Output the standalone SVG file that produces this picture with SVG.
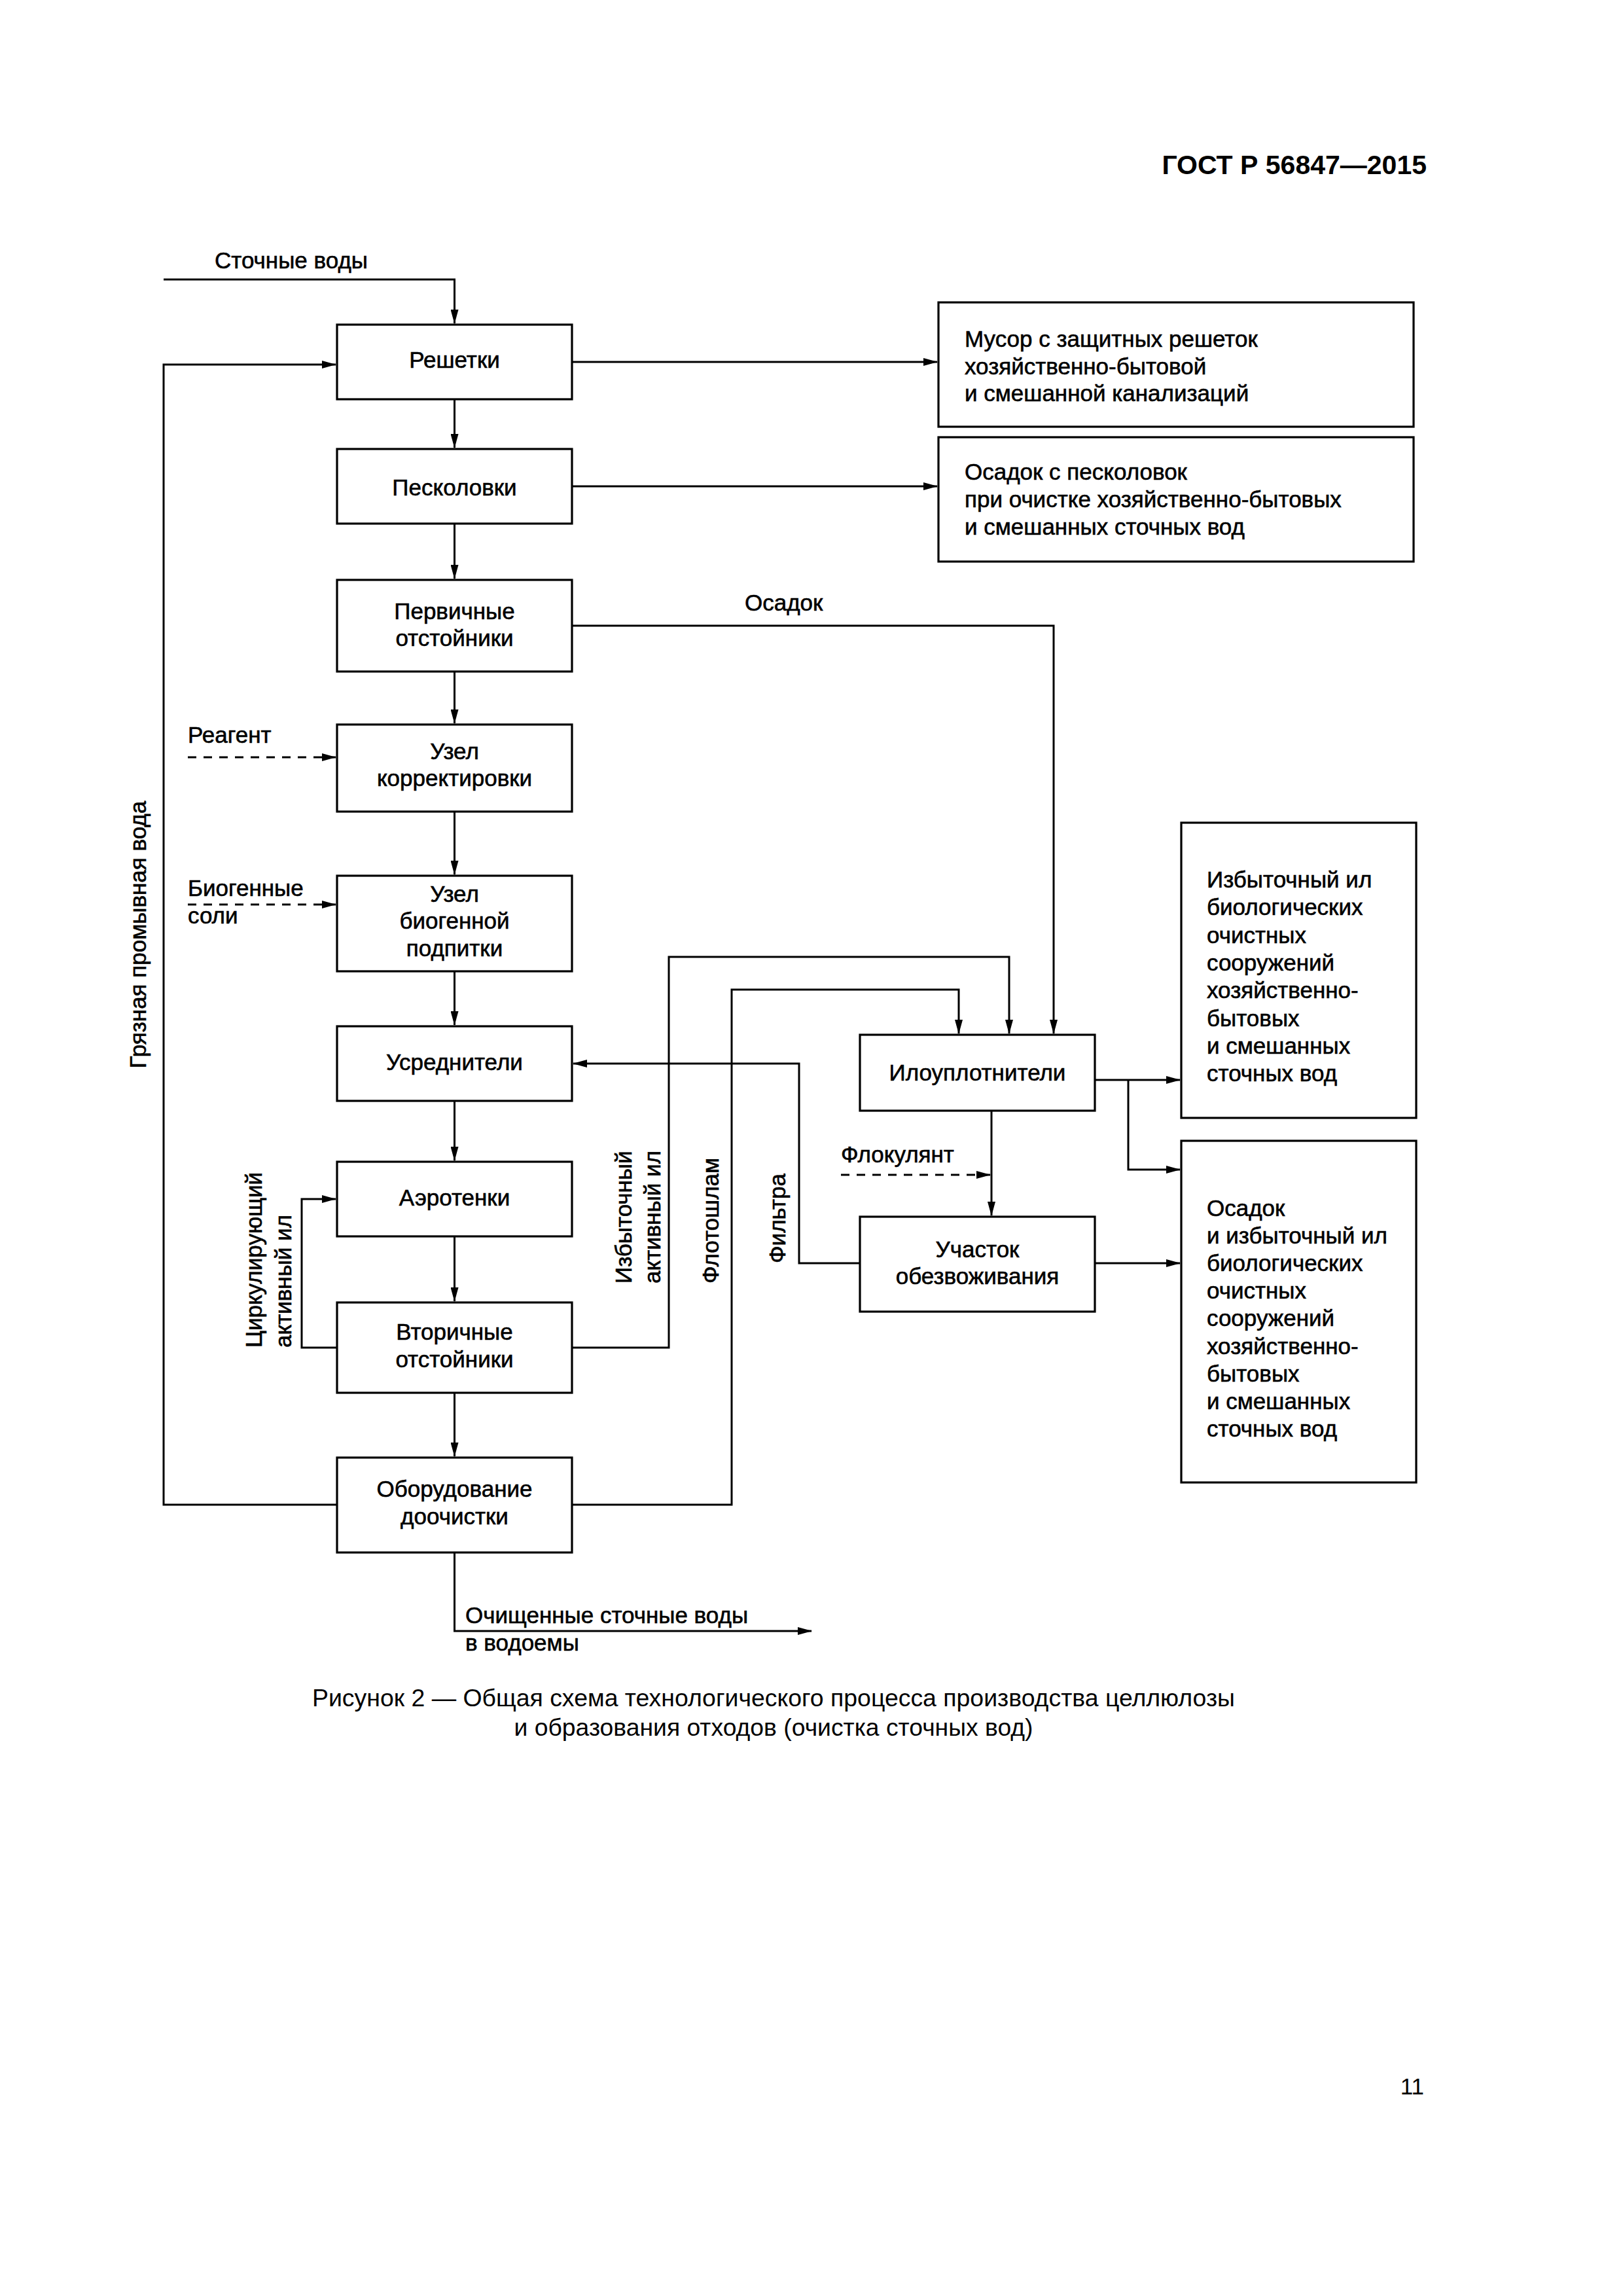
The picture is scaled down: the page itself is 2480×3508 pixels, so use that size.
<svg xmlns="http://www.w3.org/2000/svg" width="2480" height="3508" viewBox="0 0 2480 3508">
<style>
text{font-family:"Liberation Sans",Arial,sans-serif;font-size:35px;fill:#000;stroke:#000;stroke-width:0.6}
.c{text-anchor:middle}
.box{fill:none;stroke:#000;stroke-width:3.2}
.ln{fill:none;stroke:#000;stroke-width:3}
.dash{fill:none;stroke:#000;stroke-width:3;stroke-dasharray:13 11}
.hdr{font-weight:bold;font-size:41px;stroke:none}
.cap{font-size:36px;stroke:none}
</style>
<defs>
<marker id="ar" markerUnits="userSpaceOnUse" markerWidth="22" markerHeight="12" refX="21" refY="6" orient="auto">
<path d="M0,0 L22,6 L0,12 z" fill="#000"/>
</marker>
</defs>
<rect width="2480" height="3508" fill="#fff"/>
<text class="hdr" x="2180" y="266" text-anchor="end">ГОСТ Р 56847—2015</text>

<g id="connectors">
<path class="ln" d="M250,427 H694.5 V494" marker-end="url(#ar)"/>
<path class="ln" d="M515,2299 H250 V557 H513" marker-end="url(#ar)"/>
<path class="ln" d="M694.5,610 V684" marker-end="url(#ar)"/>
<path class="ln" d="M694.5,800 V884" marker-end="url(#ar)"/>
<path class="ln" d="M694.5,1026 V1105" marker-end="url(#ar)"/>
<path class="ln" d="M694.5,1240 V1336" marker-end="url(#ar)"/>
<path class="ln" d="M694.5,1484 V1566" marker-end="url(#ar)"/>
<path class="ln" d="M694.5,1682 V1773" marker-end="url(#ar)"/>
<path class="ln" d="M694.5,1889 V1988" marker-end="url(#ar)"/>
<path class="ln" d="M694.5,2128 V2225" marker-end="url(#ar)"/>
<path class="ln" d="M874,553 H1432" marker-end="url(#ar)"/>
<path class="ln" d="M874,743 H1432" marker-end="url(#ar)"/>
<path class="ln" d="M874,956 H1610 V1579" marker-end="url(#ar)"/>
<path class="dash" d="M287,1157 H513" marker-end="url(#ar)"/>
<path class="dash" d="M287,1382 H513" marker-end="url(#ar)"/>
<path class="ln" d="M515,2059 H461 V1832 H513" marker-end="url(#ar)"/>
<path class="ln" d="M874,2059 H1022 V1462 H1542 V1579" marker-end="url(#ar)"/>
<path class="ln" d="M874,2299 H1118 V1512 H1465 V1579" marker-end="url(#ar)"/>
<path class="ln" d="M1314,1930 H1221 V1625 H876" marker-end="url(#ar)"/>
<path class="ln" d="M1515,1697 V1857" marker-end="url(#ar)"/>
<path class="dash" d="M1285,1795 H1513" marker-end="url(#ar)"/>
<path class="ln" d="M1673,1650 H1803" marker-end="url(#ar)"/>
<path class="ln" d="M1724,1650 V1787 H1803" marker-end="url(#ar)"/>
<path class="ln" d="M1673,1930 H1803" marker-end="url(#ar)"/>
<path class="ln" d="M694.5,2372 V2492 H1240" marker-end="url(#ar)"/>
</g>

<g id="labels">
<text x="328" y="410">Сточные воды</text>
<text x="287" y="1135">Реагент</text>
<text x="287" y="1369">Биогенные</text>
<text x="287" y="1411">соли</text>
<text x="1138" y="933">Осадок</text>
<text x="1285" y="1776">Флокулянт</text>
<text transform="translate(223,1428) rotate(-90)" class="c">Грязная промывная вода</text>
<text transform="translate(400,2059) rotate(-90)">Циркулирующий</text>
<text transform="translate(445,2059) rotate(-90)">активный ил</text>
<text transform="translate(965,1961) rotate(-90)">Избыточный</text>
<text transform="translate(1009,1961) rotate(-90)">активный ил</text>
<text transform="translate(1098,1961) rotate(-90)">Флотошлам</text>
<text transform="translate(1200,1930) rotate(-90)">Фильтра</text>
<text x="711" y="2480">Очищенные сточные воды</text>
<text x="711" y="2522">в водоемы</text>
</g>

<g id="n-reshetki"><rect class="box" x="515" y="496" width="359" height="114"/><text class="c" x="694.5" y="562">Решетки</text></g>
<g id="n-peskolovki"><rect class="box" x="515" y="686" width="359" height="114"/><text class="c" x="694.5" y="757">Песколовки</text></g>
<g id="n-pervichnye"><rect class="box" x="515" y="886" width="359" height="140"/><text class="c" x="694.5" y="946">Первичные</text><text class="c" x="694.5" y="987">отстойники</text></g>
<g id="n-korrekt"><rect class="box" x="515" y="1107" width="359" height="133"/><text class="c" x="694.5" y="1160">Узел</text><text class="c" x="694.5" y="1201">корректировки</text></g>
<g id="n-biogen"><rect class="box" x="515" y="1338" width="359" height="146"/><text class="c" x="694.5" y="1378">Узел</text><text class="c" x="694.5" y="1419">биогенной</text><text class="c" x="694.5" y="1461">подпитки</text></g>
<g id="n-usredn"><rect class="box" x="515" y="1568" width="359" height="114"/><text class="c" x="694.5" y="1635">Усреднители</text></g>
<g id="n-aero"><rect class="box" x="515" y="1775" width="359" height="114"/><text class="c" x="694.5" y="1842">Аэротенки</text></g>
<g id="n-vtorich"><rect class="box" x="515" y="1990" width="359" height="138"/><text class="c" x="694.5" y="2047">Вторичные</text><text class="c" x="694.5" y="2089">отстойники</text></g>
<g id="n-doochist"><rect class="box" x="515" y="2227" width="359" height="145"/><text class="c" x="694.5" y="2287">Оборудование</text><text class="c" x="694.5" y="2329">доочистки</text></g>

<g id="n-musor"><rect class="box" x="1434" y="462" width="726" height="190"/>
<text x="1474" y="530">Мусор с защитных решеток</text><text x="1474" y="572">хозяйственно-бытовой</text><text x="1474" y="613">и смешанной канализаций</text></g>
<g id="n-osadok-pesk"><rect class="box" x="1434" y="668" width="726" height="190"/>
<text x="1474" y="733">Осадок с песколовок</text><text x="1474" y="775">при очистке хозяйственно-бытовых</text><text x="1474" y="817">и смешанных сточных вод</text></g>

<g id="n-iloupl"><rect class="box" x="1314" y="1581" width="359" height="116"/><text class="c" x="1493.5" y="1651">Илоуплотнители</text></g>
<g id="n-uchastok"><rect class="box" x="1314" y="1859" width="359" height="145"/><text class="c" x="1493.5" y="1921">Участок</text><text class="c" x="1493.5" y="1962">обезвоживания</text></g>

<g id="n-izbyt"><rect class="box" x="1805" y="1257" width="359" height="451"/>
<text x="1844" y="1356">Избыточный ил</text><text x="1844" y="1398.3">биологических</text><text x="1844" y="1440.6">очистных</text><text x="1844" y="1482.9">сооружений</text><text x="1844" y="1525.2">хозяйственно-</text><text x="1844" y="1567.5">бытовых</text><text x="1844" y="1609.8">и смешанных</text><text x="1844" y="1652.1">сточных вод</text></g>
<g id="n-osadok-izbyt"><rect class="box" x="1805" y="1743" width="359" height="522"/>
<text x="1844" y="1858">Осадок</text><text x="1844" y="1900.1">и избыточный ил</text><text x="1844" y="1942.2">биологических</text><text x="1844" y="1984.3">очистных</text><text x="1844" y="2026.4">сооружений</text><text x="1844" y="2068.5">хозяйственно-</text><text x="1844" y="2110.6">бытовых</text><text x="1844" y="2152.7">и смешанных</text><text x="1844" y="2194.8">сточных вод</text></g>

<text class="c cap" x="1182" y="2607" textLength="1410" lengthAdjust="spacingAndGlyphs">Рисунок 2 — Общая схема технологического процесса производства целлюлозы</text>
<text class="c cap" x="1182" y="2652" textLength="793" lengthAdjust="spacingAndGlyphs">и образования отходов (очистка сточных вод)</text>
<text x="2176" y="3200" text-anchor="end" font-size="36" style="stroke:none">11</text>
</svg>
